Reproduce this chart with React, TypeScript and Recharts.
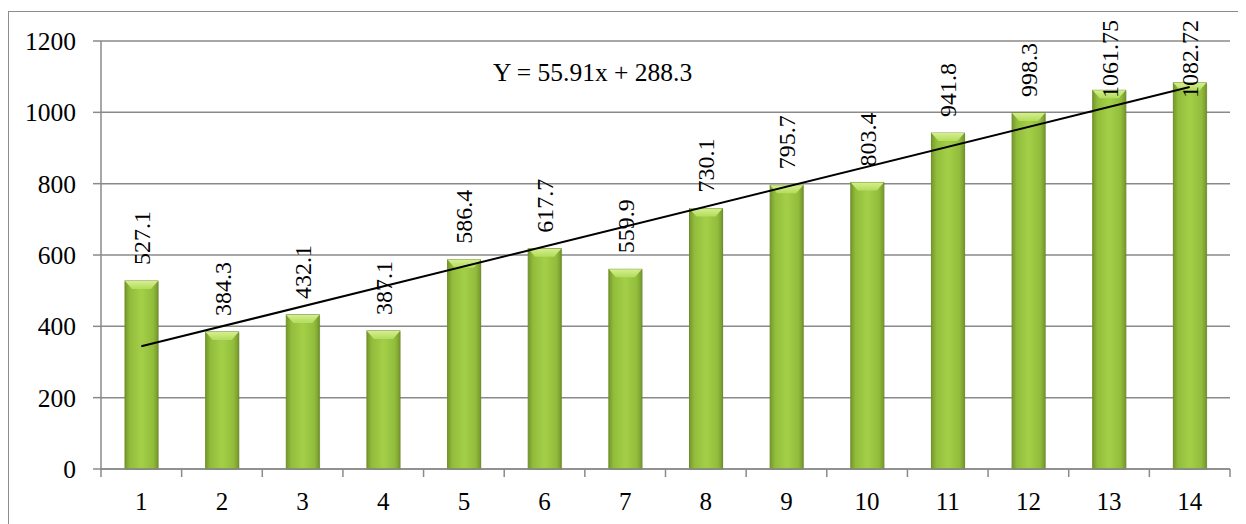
import React from "react";
import { ComposedChart, Bar, Line, XAxis, YAxis, CartesianGrid, LabelList } from "recharts";

const categories = ["1", "2", "3", "4", "5", "6", "7", "8", "9", "10", "11", "12", "13", "14"];
const values = [527.1, 384.3, 432.1, 387.1, 586.4, 617.7, 559.9, 730.1, 795.7, 803.4, 941.8, 998.3, 1061.75, 1082.72];
const valueLabels = ["527.1", "384.3", "432.1", "387.1", "586.4", "617.7", "559.9", "730.1", "795.7", "803.4", "941.8", "998.3", "1061.75", "1082.72"];
// trendline end points (Y = 55.91x + 288.3 at x = 1 and x = 14)
const trendValues: (number | null)[] = [344.2, null, null, null, null, null, null, null, null, null, null, null, null, 1071.0];
const yTicks = [0, 200, 400, 600, 800, 1000, 1200];
const equationText = "Y = 55.91x + 288.3";

const data = categories.map((c, i) => ({ cat: c, value: values[i], label: valueLabels[i], trend: trendValues[i] }));

const FONT = "Liberation Serif, Times New Roman, serif";
const GRID = "#8a8a8a";
const textStyle = { fontFamily: FONT };

const BarShape = (props: any) => {
  const { x, y, width, height } = props;
  if (!height || height <= 0) return null;
  const bev = Math.min(8, height / 2);
  const inset = Math.min(7, width / 4);
  return (
    <g>
      <rect x={x + 1} y={y + 1} width={width} height={height} fill="rgba(0,0,0,0.12)" />
      <rect x={x} y={y} width={width} height={height} fill="url(#barGrad)" stroke="#6f8f2c" strokeWidth={1} />
      <polygon
        points={`${x},${y} ${x + width},${y} ${x + width - inset},${y + bev} ${x + inset},${y + bev}`}
        fill="url(#bevGrad)"
      />
    </g>
  );
};

const estWidth = (s: string, fs: number) => {
  let w = 0;
  for (const ch of s) w += ch === "." ? 0.25 * fs : 0.5 * fs;
  return w;
};

const ValueLabel = (props: any) => {
  const { x, y, width, index } = props;
  const fs = 24;
  const text = valueLabels[index];
  const len = estWidth(text, fs);
  let bottom = y - 16;
  if (bottom - len < 12) bottom = 12 + len;
  const cx = x + width / 2;
  return (
    <text
      x={cx}
      y={bottom}
      transform={`rotate(-90, ${cx}, ${bottom})`}
      textAnchor="start"
      dy="0.35em"
      style={textStyle}
      fontSize={fs}
      fill="#000"
    >
      {text}
    </text>
  );
};

const YTick = (props: any) => {
  const { x, y, payload } = props;
  return (
    <text x={x} y={y} dy="0.35em" textAnchor="end" style={textStyle} fontSize={25.5} fill="#000">
      {payload.value}
    </text>
  );
};

const XTick = (props: any) => {
  const { x, y, payload, index } = props;
  const off = payload && payload.offset ? payload.offset : 40;
  const axisY = y - 8;
  return (
    <g>
      <line x1={x - off} y1={axisY} x2={x - off} y2={axisY + 8} stroke={GRID} strokeWidth={1.5} />
      {index === categories.length - 1 && (
        <line x1={x + off} y1={axisY} x2={x + off} y2={axisY + 8} stroke={GRID} strokeWidth={1.5} />
      )}
      <text x={x} y={axisY + 41} textAnchor="middle" style={textStyle} fontSize={25} fill="#000">
        {payload.value}
      </text>
    </g>
  );
};

export default function App() {
  return (
    <div style={{ position: "relative", width: 1238, height: 516, overflow: "hidden", background: "#fff", fontFamily: FONT }}>
      <div
        style={{
          position: "absolute",
          left: 0,
          top: 3,
          width: 1236,
          height: 530,
          border: "1.5px solid #8c8c8c",
          boxSizing: "border-box",
        }}
      />
      <div style={{ position: "absolute", left: 0, top: 0 }}>
        <ComposedChart
          width={1238}
          height={516}
          data={data}
          margin={{ top: 33, right: 16, bottom: 15, left: 8 }}
          barCategoryGap={0}
          style={textStyle}
        >
          <defs>
            <linearGradient id="barGrad" x1="0" y1="0" x2="1" y2="0">
              <stop offset="0%" stopColor="#76982b" />
              <stop offset="15%" stopColor="#92bd3c" />
              <stop offset="50%" stopColor="#a3cf48" />
              <stop offset="85%" stopColor="#92bd3c" />
              <stop offset="100%" stopColor="#76982b" />
            </linearGradient>
            <linearGradient id="bevGrad" x1="0" y1="0" x2="0" y2="1">
              <stop offset="0%" stopColor="#d4ef8e" />
              <stop offset="100%" stopColor="#b3dc5c" />
            </linearGradient>
          </defs>
          <CartesianGrid vertical={false} stroke={GRID} strokeWidth={1.5} />
          <XAxis
            dataKey="cat"
            height={40}
            axisLine={{ stroke: GRID, strokeWidth: 1.5 }}
            tickLine={false}
            tick={<XTick />}
            interval={0}
          />
          <YAxis
            width={85}
            domain={[0, 1200]}
            ticks={yTicks}
            interval={0}
            axisLine={{ stroke: GRID, strokeWidth: 1.5 }}
            tickLine={{ stroke: GRID, strokeWidth: 1.5 }}
            tickSize={8}
            tickMargin={17}
            tick={<YTick />}
          />
          <Bar dataKey="value" barSize={33} shape={<BarShape />} isAnimationActive={false}>
            <LabelList dataKey="value" content={<ValueLabel />} />
          </Bar>
          <Line
            dataKey="trend"
            stroke="#000"
            strokeWidth={2}
            dot={false}
            connectNulls
            isAnimationActive={false}
            legendType="none"
          />
        </ComposedChart>
      </div>
      <div
        style={{
          position: "absolute",
          left: 485,
          top: 52,
          fontFamily: FONT,
          fontSize: 25.5,
          lineHeight: "26px",
          whiteSpace: "nowrap",
          color: "#000",
        }}
      >
        {equationText}
      </div>
    </div>
  );
}
